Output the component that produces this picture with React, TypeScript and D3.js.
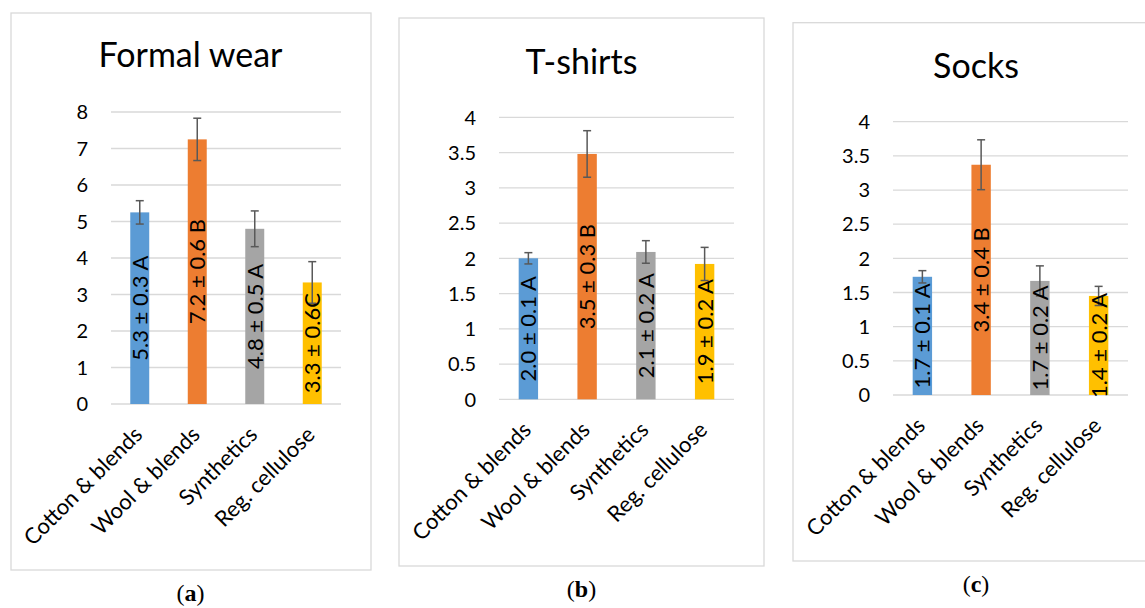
import * as d3 from 'd3';

// ── Data ────────────────────────────────────────────────────
const categories = ['Cotton & blends', 'Wool & blends', 'Synthetics', 'Reg. cellulose'];
const barColors = ['#5B9BD5', '#ED7D31', '#A5A5A5', '#FFC000'];

const formalMeans = [5.25, 7.25, 4.8, 3.33];
const formalErrors = [0.32, 0.58, 0.49, 0.57];
const formalLabels = ['5.3 ± 0.3 A', '7.2 ± 0.6 B', '4.8 ± 0.5 A', '3.3 ± 0.6C'];
const formalTicks = [0, 1, 2, 3, 4, 5, 6, 7, 8];

const tshirtMeans = [2.0, 3.48, 2.09, 1.92];
const tshirtErrors = [0.08, 0.33, 0.16, 0.235];
const tshirtLabels = ['2.0 ± 0.1 A', '3.5 ± 0.3 B', '2.1 ± 0.2 A', '1.9 ± 0.2 A'];

const sockMeans = [1.73, 3.37, 1.67, 1.45];
const sockErrors = [0.09, 0.365, 0.22, 0.14];
const sockLabels = ['1.7 ± 0.1 A', '3.4 ± 0.4 B', '1.7 ± 0.2 A', '1.4 ± 0.2 A'];

const halfTicks = ['0', '0.5', '1', '1.5', '2', '2.5', '3', '3.5', '4'];

const FONT = 'Lato, Carlito, Calibri, sans-serif';

interface PanelProps {
  title: string;
  caption: string;
  means: number[];
  errors: number[];
  labels: string[];
  ticks: (number | string)[];
  box: { x0: number; y0: number; x1: number; y1: number };
  plot: { left: number; right: number; top: number; bottom: number };
  titleY: number;
  centerX: number;
}

function Panel({ title, caption, means, errors, labels, ticks, box, plot, titleY, centerX }: PanelProps) {
  const tickVals = ticks.map(Number);
  const y = d3.scaleLinear()
    .domain([0, d3.max(tickVals)!])
    .range([plot.bottom, plot.top]);
  const x = d3.scaleBand<string>()
    .domain(categories)
    .range([plot.left, plot.right])
    .paddingInner(0.67)
    .paddingOuter(0.335);
  const cx = (c: string) => x(c)! + x.bandwidth() / 2;

  return (
    <g>
      <rect x={box.x0} y={box.y0} width={box.x1 - box.x0} height={box.y1 - box.y0}
        fill="#fff" stroke="#D9D9D9" strokeWidth={1.3} />
      <text x={centerX} y={titleY} textAnchor="middle" fontSize={34} fill="#000">{title}</text>

      {/* grid + y ticks */}
      {tickVals.map((t, i) => (
        <g key={i}>
          <line x1={plot.left} x2={plot.right} y1={y(t)} y2={y(t)} stroke="#D9D9D9" strokeWidth={1.3} />
          <text x={plot.left - 23} y={y(t)} dy="0.36em" textAnchor="end" fontSize={20} fill="#000">
            {String(ticks[i])}
          </text>
        </g>
      ))}

      {/* bars */}
      {categories.map((c, i) => (
        <rect key={c} x={x(c)} width={x.bandwidth()} y={y(means[i])}
          height={plot.bottom - y(means[i])} fill={barColors[i]} />
      ))}

      {/* error bars */}
      {categories.map((c, i) => {
        const hi = y(means[i] + errors[i]);
        const lo = y(means[i] - errors[i]);
        const px = cx(c);
        return (
          <g key={c} stroke="#595959" strokeWidth={1.5}>
            <line x1={px} x2={px} y1={hi} y2={lo} />
            <line x1={px - 4} x2={px + 4} y1={hi} y2={hi} />
            <line x1={px - 4} x2={px + 4} y1={lo} y2={lo} />
          </g>
        );
      })}

      {/* bar labels */}
      {categories.map((c, i) => {
        const py = y(means[i] / 2);
        return (
          <text key={c} transform={`translate(${cx(c)},${py}) rotate(-90)`} dy="0.36em"
            textAnchor="middle" fontSize={22} fill="#000">{labels[i]}</text>
        );
      })}

      {/* category labels */}
      {categories.map((c) => (
        <text key={c} transform={`translate(${cx(c) + 4},${plot.bottom + 32}) rotate(-45)`}
          textAnchor="end" fontSize={22} fill="#000">{c}</text>
      ))}

      <text x={centerX} y={box.y1 + 31} textAnchor="middle" fontSize={24}
        fontFamily="'Liberation Serif', 'Times New Roman', serif" fill="#000">
        (<tspan fontWeight="bold">{caption}</tspan>)
      </text>
    </g>
  );
}

export default function App() {
  return (
    <svg width={1145} height={608} style={{ position: 'absolute', left: 0, top: 0, background: '#fff' }}
      fontFamily={FONT}>
      <Panel title="Formal wear" caption="a" means={formalMeans} errors={formalErrors}
        labels={formalLabels} ticks={formalTicks} centerX={190.5}
        box={{ x0: 11, y0: 13, x1: 371, y1: 570 }}
        plot={{ left: 111, right: 341, top: 112, bottom: 404 }} titleY={67} />
      <Panel title="T-shirts" caption="b" means={tshirtMeans} errors={tshirtErrors}
        labels={tshirtLabels} ticks={halfTicks} centerX={581.5}
        box={{ x0: 399, y0: 18, x1: 764, y1: 566 }}
        plot={{ left: 499, right: 734, top: 117.3, bottom: 399.3 }} titleY={74} />
      <Panel title="Socks" caption="c" means={sockMeans} errors={sockErrors}
        labels={sockLabels} ticks={halfTicks} centerX={976}
        box={{ x0: 793, y0: 22.7, x1: 1160, y1: 561 }}
        plot={{ left: 893, right: 1128, top: 121.7, bottom: 395 }} titleY={78} />
    </svg>
  );
}
